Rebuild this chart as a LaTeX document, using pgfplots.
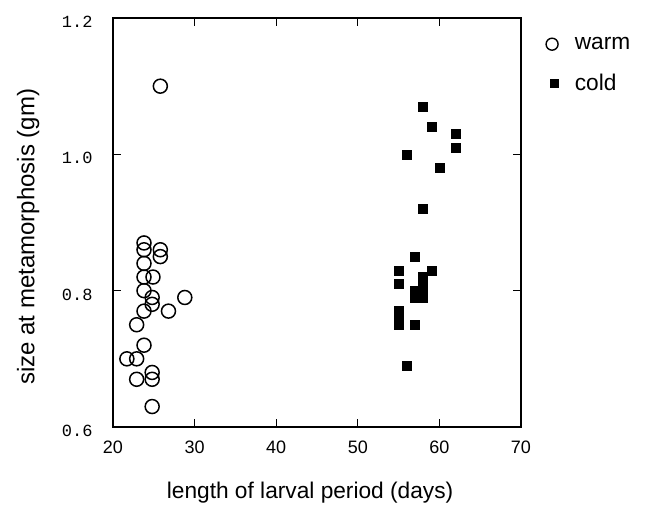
\documentclass[border=0pt]{standalone}
\usepackage{fontspec}
\setmainfont{Liberation Sans}
\newfontfamily\tickmono{Liberation Mono}
\usepackage{pgfplots}
\pgfplotsset{compat=1.18}

\begin{document}
\begin{tikzpicture}
\useasboundingbox (-113pt,-78pt) rectangle (532pt,427pt);
\begin{axis}[
    scale only axis,
    width=408pt, height=409pt,
    xmin=20, xmax=70,
    ymin=0.6, ymax=1.2,
    xtick={20,30,40,50,60,70},
    ytick={0.6,0.8,1.0,1.2},
    tick align=inside,
    major tick length=8pt,
    axis line style={line width=1.4pt},
    every tick/.style={black, line width=1.2pt},
    /pgf/number format/assume math mode=true,
    y tick label style={/pgf/number format/fixed, /pgf/number format/precision=1,
        /pgf/number format/fixed zerofill, font=\tickmono\fontsize{17}{20}\selectfont,
        xshift=-17pt, yshift=-4pt},
    x tick label style={font=\fontsize{18}{21}\selectfont, yshift=-10pt},
    xlabel={length of larval period (days)},
    ylabel={size at metamorphosis (gm)},
    xlabel style={font=\fontsize{22.7}{26}\selectfont, at={(axis description cs:0.483,-0.161)}, anchor=center},
    ylabel style={font=\fontsize{24}{28}\selectfont, at={(axis description cs:-0.208,0.465)}, anchor=center},
    legend style={draw=none, fill=none, at={(1.042,0.963)}, anchor=north west,
        font=\fontsize{22.7}{26}\selectfont, row sep=19pt, cells={anchor=west}},
]
\addplot[only marks, mark=o, mark size=7pt, line width=1.5pt, black,
    legend image code/.code={
        \path (0pt,0pt) (30pt,0pt);
        \draw[black, mark=o, mark size=6pt, line width=1.4pt] plot coordinates {(10pt,0pt)};}]
    coordinates {
    (25.8,1.10)
    (23.8,0.87) (23.8,0.86) (25.8,0.86) (25.8,0.85)
    (23.8,0.84) (23.8,0.82) (24.9,0.82) (23.8,0.80)
    (24.8,0.79) (28.8,0.79) (24.8,0.78)
    (23.8,0.77) (26.8,0.77) (22.9,0.75) (23.8,0.72)
    (21.7,0.70) (22.9,0.70) (24.8,0.68) (22.9,0.67) (24.8,0.67)
    (24.8,0.63)
};
\addlegendentry{warm}
\addplot[only marks, mark=square*, mark size=4.5pt, black,
    legend image code/.code={
        \path (0pt,0pt) (30pt,0pt);
        \draw[black, mark=square*, mark size=4pt] plot coordinates {(12pt,0pt)};}]
    coordinates {
    (58,1.07) (59,1.04) (62,1.03) (62,1.01) (56,1.00) (60,0.98)
    (58,0.92) (57,0.85) (55,0.83) (59,0.83) (58,0.82) (55,0.81)
    (58,0.81) (58,0.80) (57,0.80) (57,0.79) (58,0.79)
    (55,0.77) (55,0.76) (55,0.75) (57,0.75) (56,0.69)
};
\addlegendentry{cold}
\end{axis}
\end{tikzpicture}
\end{document}
